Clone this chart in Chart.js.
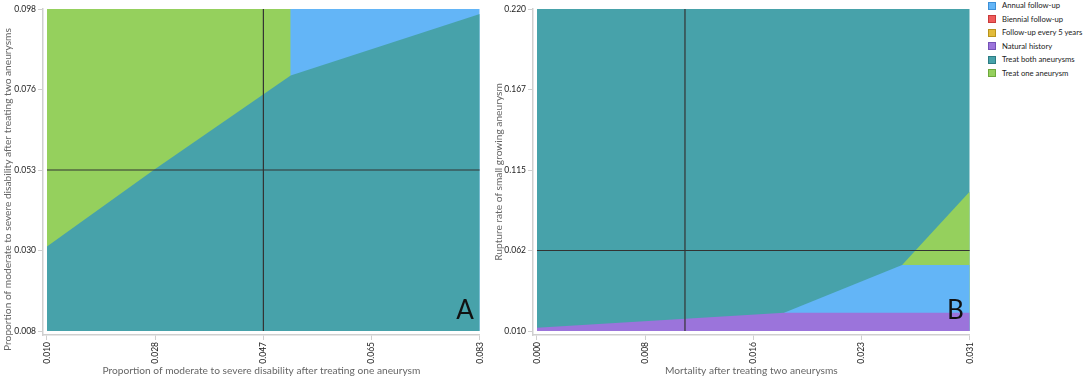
<!DOCTYPE html>
<html lang="en">
<head>
  <meta charset="UTF-8" />
  <title>Two-way sensitivity analysis</title>
  <script src="https://cdn.jsdelivr.net/npm/chart.js"></script>
  <style>
    html, body {
      margin: 0;
      padding: 0;
      background: #fff;
    }
    .wrap {
      position: relative;
      width: 1084px;
      height: 379px;
    }
    #chartA {
      position: absolute;
      left: 0;
      top: 0;
    }
    #chartB {
      position: absolute;
      left: 492px;
      top: 0;
    }
    #legend {
      position: absolute;
      left: 988px;
      top: -1px;
      font-family: Lato, 'Noto Sans', sans-serif;
      font-size: 7.7px;
      color: #222;
    }
    #legend .item {
      height: 13.5px;
      line-height: 13.5px;
      white-space: nowrap;
      display: flex;
      align-items: center;
    }
    #legend .box {
      display: inline-block;
      width: 6px;
      height: 6px;
      border: 1px solid;
      margin-right: 6px;
    }
  </style>
</head>
<body>
  <div class="wrap">
    <canvas id="chartA" width="492" height="379"></canvas>
    <canvas id="chartB" width="490" height="379"></canvas>
    <div id="legend"></div>
  </div>

  <script>
    // strategy names (legend order)
    const strategies = ['Annual follow-up', 'Biennial follow-up', 'Follow-up every 5 years',
      'Natural history', 'Treat both aneurysms', 'Treat one aneurysm'];
    const fillColors = ['#63b5f7', '#ef5b5b', '#e2bb3a', '#9b74db', '#47a2aa', '#95d05d'];
    const boxBorders = ['#3d8fd6', '#c93a3a', '#b8941c', '#7452b6', '#2c7c83', '#6ea83c'];

    // panel A
    const aTitleX = 'Proportion of moderate to severe disability after treating one aneurysm';
    const aTitleY = 'Proportion of moderate to severe disability after treating two aneurysms';
    const aTicksX = ['0.010', '0.028', '0.047', '0.065', '0.083'];
    const aTicksY = ['0.008', '0.030', '0.053', '0.076', '0.098'];
    const aRangeX = [0.010, 0.083];
    const aRangeY = [0.008, 0.098];
    const aAnnualX = [0.010, 0.083];
    const aAnnualY = [0.098, 0.098];
    const aOneX = [0.010, 0.0511, 0.0511];
    const aOneY = [0.098, 0.098, 0.008];
    const aBothX = [0.010, 0.028, 0.0511, 0.083];
    const aBothY = [0.0316, 0.053, 0.0794, 0.0966];
    const aBase = [0.0465, 0.053];

    // panel B
    const bTitleX = 'Mortality after treating two aneurysms';
    const bTitleY = 'Rupture rate of small growing aneurysm';
    const bTicksX = ['0.000', '0.008', '0.016', '0.023', '0.031'];
    const bTicksY = ['0.010', '0.062', '0.115', '0.167', '0.220'];
    const bRangeX = [0.000, 0.031];
    const bRangeY = [0.010, 0.220];
    const bBothX = [0.000, 0.031];
    const bBothY = [0.220, 0.220];
    const bOneX = [0.02615, 0.031];
    const bOneY = [0.053, 0.1009];
    const bAnnualX = [0.0177, 0.02615, 0.031];
    const bAnnualY = [0.0219, 0.053, 0.053];
    const bNaturalX = [0.000, 0.0177, 0.031];
    const bNaturalY = [0.0122, 0.0219, 0.0219];
    const bBase = [0.0106, 0.0625];

    const FONT = "Lato, 'Noto Sans', sans-serif";

    function pts(xs, ys) {
      return xs.map((x, i) => ({ x: x, y: ys[i] }));
    }

    function area(idx, xs, ys, floor, order) {
      return {
        label: strategies[idx],
        data: pts(xs, ys),
        backgroundColor: fillColors[idx],
        borderColor: fillColors[idx],
        borderWidth: 0,
        pointRadius: 0,
        fill: { value: floor },
        tension: 0,
        order: order
      };
    }

    function crossLines(base, rx, ry) {
      return [
        { label: '_v', data: [{ x: base[0], y: ry[0] }, { x: base[0], y: ry[1] }] },
        { label: '_h', data: [{ x: rx[0], y: base[1] }, { x: rx[1], y: base[1] }] }
      ].map(d => Object.assign(d, {
        borderColor: '#333',
        borderWidth: 1.2,
        pointRadius: 0,
        fill: false,
        order: 0
      }));
    }

    // axis that starts a few pixels before the data, ticks spread evenly
    function axis(range, labels, title, isX, size) {
      const gap = (range[1] - range[0]) * (isX ? 4 / 435 : 4 / 322);
      return {
        type: 'linear',
        min: range[0] - gap,
        max: range[1],
        afterBuildTicks: scale => {
          scale.ticks = labels.map((_, i) => ({
            value: range[0] + i * (range[1] - range[0]) / (labels.length - 1)
          }));
        },
        afterFit: scale => {
          if (isX) scale.height = size;
          else scale.width = size;
        },
        ticks: {
          autoSkip: false,
          minRotation: isX ? 90 : 0,
          maxRotation: isX ? 90 : 0,
          padding: 2,
          color: '#222',
          font: { family: FONT, size: 8.5 },
          callback: (v, i) => labels[i]
        },
        grid: {
          drawOnChartArea: false,
          drawTicks: true,
          tickLength: 5,
          color: '#cfcfcf'
        },
        border: { display: true, color: '#cfcfcf', width: 1.5 },
        title: {
          display: !!title,
          text: title,
          color: '#666',
          font: { family: FONT, size: 10.2 },
          padding: { top: 1, bottom: 2 }
        }
      };
    }

    function panelLetter(letter) {
      return {
        id: 'panelLetter' + letter,
        afterDatasetsDraw(chart) {
          const a = chart.chartArea;
          const ctx = chart.ctx;
          ctx.save();
          ctx.font = '26px ' + FONT;
          ctx.fillStyle = '#111';
          ctx.textAlign = 'right';
          ctx.textBaseline = 'alphabetic';
          ctx.fillText(letter, a.right - 6, a.bottom - 16);
          ctx.restore();
        }
      };
    }

    // panel A's vertical title sits centred on the whole canvas height
    const sideTitleA = {
      id: 'sideTitleA',
      afterDraw(chart) {
        const ctx = chart.ctx;
        ctx.save();
        ctx.translate(7.5, chart.height / 2);
        ctx.rotate(-Math.PI / 2);
        ctx.font = '10.2px ' + FONT;
        ctx.fillStyle = '#666';
        ctx.textAlign = 'center';
        ctx.textBaseline = 'middle';
        ctx.fillText(aTitleY, 0, 0);
        ctx.restore();
      }
    };

    const chartA = new Chart(document.getElementById('chartA'), {
      type: 'line',
      data: {
        datasets: [
          area(0, aAnnualX, aAnnualY, aRangeY[0], 3),
          area(5, aOneX, aOneY, aRangeY[0], 2),
          area(4, aBothX, aBothY, aRangeY[0], 1),
          ...crossLines(aBase, aRangeX, aRangeY)
        ]
      },
      options: {
        responsive: false,
        animation: false,
        layout: { padding: { top: 9, right: 10, left: 0, bottom: 0 } },
        plugins: {
          legend: { display: false },
          tooltip: { enabled: false }
        },
        scales: {
          x: axis(aRangeX, aTicksX, aTitleX, true, 44),
          y: axis(aRangeY, aTicksY, '', false, 43)
        }
      },
      plugins: [panelLetter('A'), sideTitleA]
    });

    const chartB = new Chart(document.getElementById('chartB'), {
      type: 'line',
      data: {
        datasets: [
          area(0, bAnnualX, bAnnualY, bRangeY[0], 2),
          area(3, bNaturalX, bNaturalY, bRangeY[0], 1),
          area(4, bBothX, bBothY, bRangeY[0], 4),
          area(5, bOneX, bOneY, bRangeY[0], 3),
          ...crossLines(bBase, bRangeX, bRangeY)
        ]
      },
      options: {
        responsive: false,
        animation: false,
        layout: { padding: { top: 9, right: 10, left: 0, bottom: 0 } },
        plugins: {
          legend: { display: false },
          tooltip: { enabled: false }
        },
        scales: {
          x: axis(bRangeX, bTicksX, bTitleX, true, 44),
          y: axis(bRangeY, bTicksY, bTitleY, false, 41)
        }
      },
      plugins: [panelLetter('B')]
    });

    // legend lists every strategy, including the ones with no region
    const legend = document.getElementById('legend');
    strategies.forEach((name, i) => {
      const row = document.createElement('div');
      row.className = 'item';
      const box = document.createElement('span');
      box.className = 'box';
      box.style.background = fillColors[i];
      box.style.borderColor = boxBorders[i];
      row.appendChild(box);
      row.appendChild(document.createTextNode(name));
      legend.appendChild(row);
    });
  </script>
</body>
</html>
